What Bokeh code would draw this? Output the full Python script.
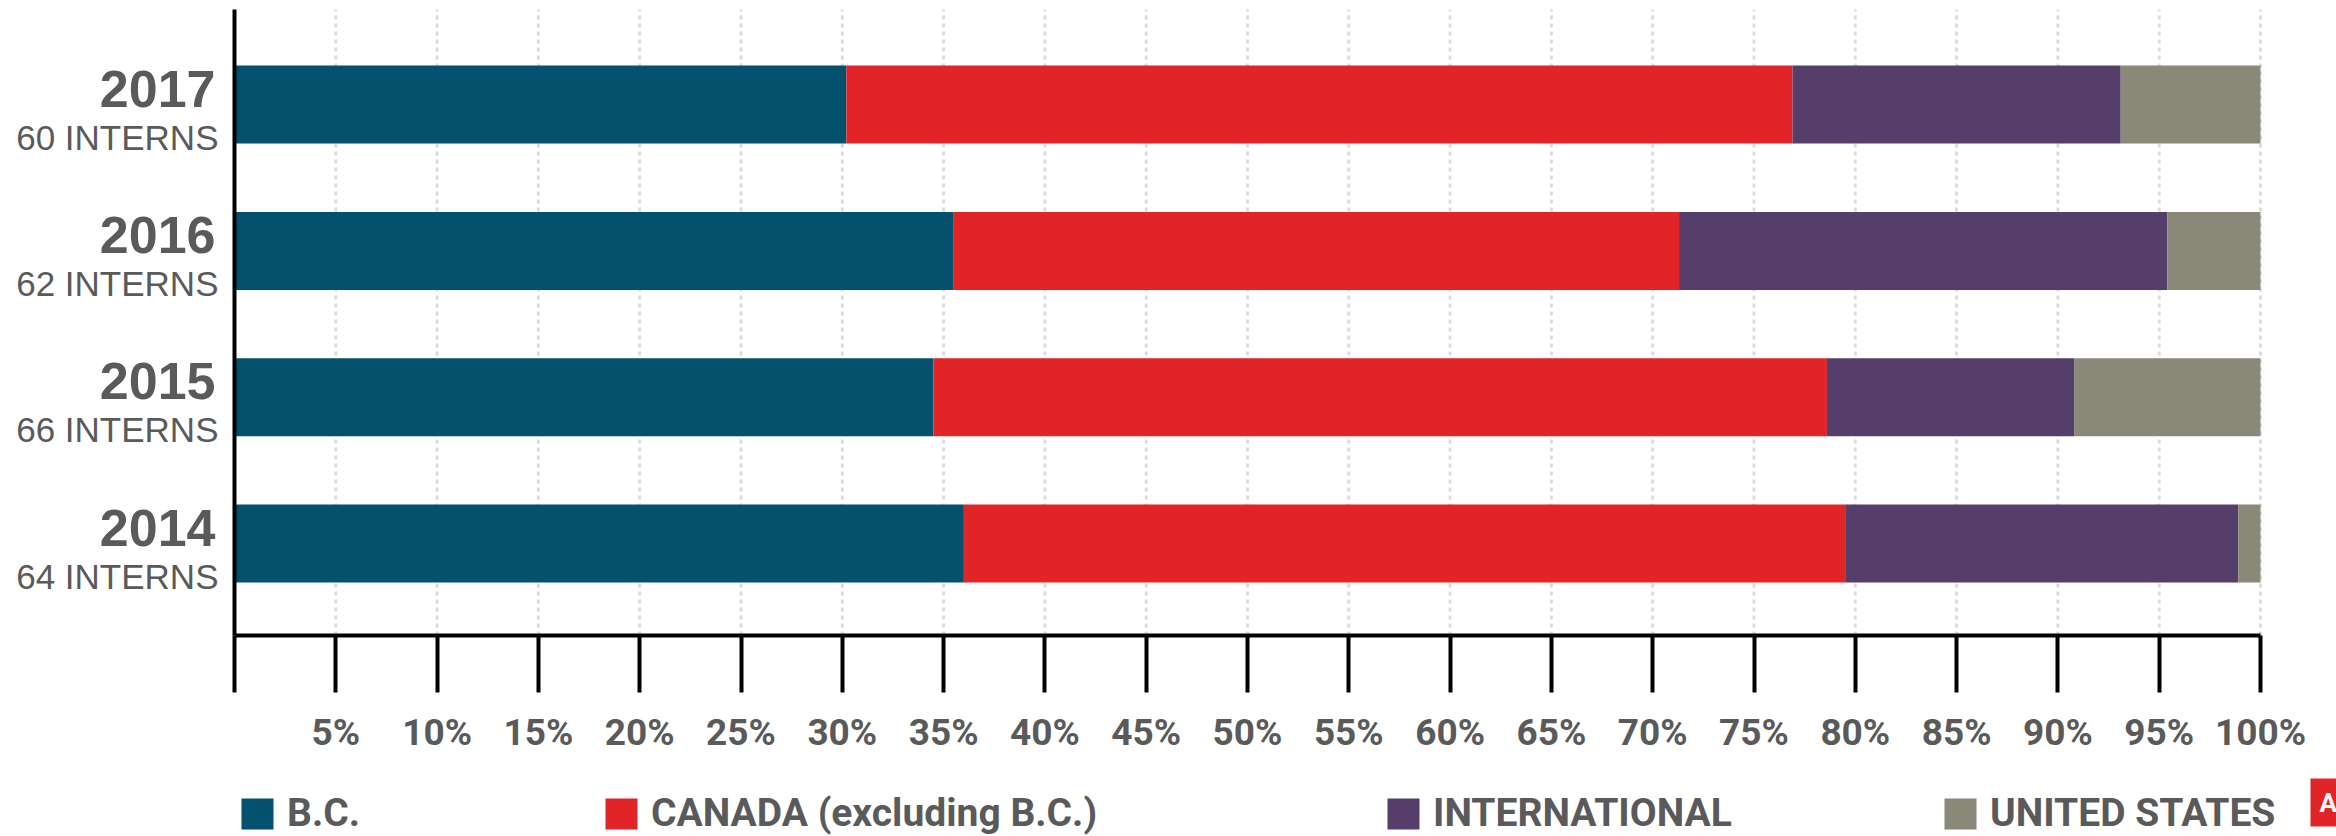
from bokeh.plotting import figure
from bokeh.models import (ColumnDataSource, FixedTicker, LabelSet, Legend,
                          LegendItem, Label, Range1d)
from bokeh.core.properties import value
from bokeh.embed import file_html
from bokeh.resources import INLINE

# ---- data -------------------------------------------------------------
years = ["2014", "2015", "2016", "2017"]
interns = ["64 INTERNS", "66 INTERNS", "62 INTERNS", "60 INTERNS"]
bc = [36.0, 34.5, 35.5, 30.2]
canada = [43.5, 44.1, 35.8, 46.7]
international = [19.4, 12.2, 24.1, 16.2]
united_states = [1.1, 9.2, 4.6, 6.9]
series = ["bc", "canada", "international", "united_states"]
series_labels = ["B.C.", "CANADA (excluding B.C.)", "INTERNATIONAL", "UNITED STATES"]
tick_values = list(range(0, 101, 5))

# ---- style / layout ---------------------------------------------------
colors = ["#03516c", "#e02427", "#553e69", "#8a8878"]
GRAY = "#5a5a5a"
COND = "Roboto"
SANS = "Liberation Sans"

W, H = 2336, 836
X0_PX, PX_PER_X = 234.0, 20.26      # canvas px where x=0, px per 1 %
Y0_PX, PX_PER_Y = 543.0, 146.3      # canvas px of first bar centre, px per row


def dx(px):
    return (px - X0_PX) / PX_PER_X


def dy(py):
    return (Y0_PX - py) / PX_PER_Y


AXIS_Y = dy(635)
TOP_Y = dy(9)

p = figure(width=W, height=H, output_backend="svg", toolbar_location=None,
           x_range=Range1d(dx(0), dx(W)), y_range=Range1d(dy(H), dy(0)),
           min_border_left=0, min_border_right=0,
           min_border_top=0, min_border_bottom=0)
p.outline_line_color = None
p.background_fill_color = "white"
p.border_fill_color = "white"
p.xgrid.visible = False
p.ygrid.visible = False

source = ColumnDataSource(dict(
    y=list(range(len(years))), year=years, interns=interns,
    bc=bc, canada=canada, international=international,
    united_states=united_states))

# dotted vertical grid lines at the ticks
grid_x = tick_values[1:]
p.segment(x0=grid_x, x1=grid_x, y0=[AXIS_Y] * len(grid_x), y1=[TOP_Y] * len(grid_x),
          line_color="#dcdcdc", line_width=3, line_dash="4 4")

renderers = p.hbar_stack(series, y="y", height=0.533, color=colors,
                         source=source, line_width=0)

# x axis
xa = p.xaxis[0]
xa.fixed_location = AXIS_Y
xa.bounds = (0, 100)
xa.ticker = FixedTicker(ticks=tick_values)
xa.major_label_overrides = {t: (f"{t}%" if t else "") for t in tick_values}
xa.minor_tick_line_color = None
xa.major_tick_in = 0
xa.major_tick_out = 57
xa.major_tick_line_width = 4
xa.major_tick_line_color = "black"
xa.axis_line_width = 4
xa.axis_line_color = "black"
xa.major_label_standoff = 18
xa.major_label_text_font = COND
xa.major_label_text_font_style = "bold"
xa.major_label_text_font_size = "37px"
xa.major_label_text_color = GRAY

# y axis: line only
ya = p.yaxis[0]
ya.fixed_location = 0
ya.bounds = (AXIS_Y, TOP_Y)
ya.ticker = FixedTicker(ticks=[])
ya.major_label_text_font_size = "0px"
ya.major_tick_line_color = None
ya.minor_tick_line_color = None
ya.axis_line_width = 4
ya.axis_line_color = "black"

# category labels
year_labels = LabelSet(x=0, y="y", text="year", source=source,
                       x_offset=-19, y_offset=-2, text_align="right",
                       text_baseline="alphabetic", text_font=value(SANS),
                       text_font_style="bold", text_font_size="52px",
                       text_color=GRAY)
intern_labels = LabelSet(x=0, y="y", text="interns", source=source,
                         x_offset=-16, y_offset=-45, text_align="right",
                         text_baseline="alphabetic", text_font=value(SANS),
                         text_font_size="35px", text_color=GRAY)
p.add_layout(year_labels)
p.add_layout(intern_labels)

# legends (one per item, placed individually)
legend_px = [237, 601, 1383, 1940]
for r, lab, lx in zip(renderers, series_labels, legend_px):
    leg = Legend(items=[LegendItem(label=lab, renderers=[r])],
                 location=(lx, 0), orientation="horizontal",
                 glyph_width=40, glyph_height=39, label_standoff=10,
                 padding=0, margin=0, spacing=0,
                 border_line_color=None, background_fill_alpha=0,
                 label_text_font=COND, label_text_font_style="bold",
                 label_text_font_size="39px", label_text_color=GRAY)
    p.add_layout(leg, "center")

# small red logo box at the bottom-right corner
logo = Label(x=dx(2310), y=dy(802), text="A", text_align="left",
             text_baseline="middle",
             text_font="Roboto", text_font_style="bold", text_font_size="26px",
             text_color="white", background_fill_color="#e02427",
             padding=9)
p.add_layout(logo)

open("out.html", "w").write(file_html(p, INLINE))
